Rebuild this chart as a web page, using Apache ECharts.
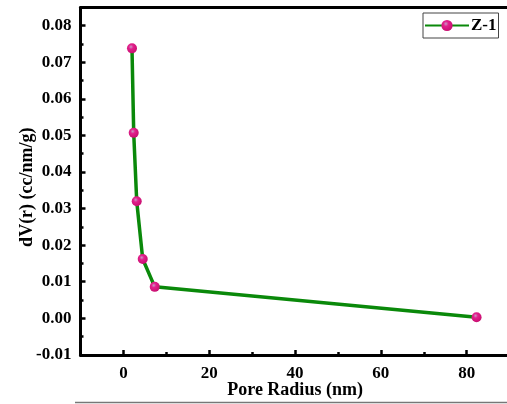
<!DOCTYPE html>
<html>
<head>
<meta charset="utf-8">
<script src="https://cdn.jsdelivr.net/npm/echarts@6/dist/echarts.min.js"></script>
<style>
  html, body { margin: 0; padding: 0; background: #fff; }
  #main { width: 507px; height: 404px; }
</style>
</head>
<body>
<div id="main"></div>
<script>
// pore size distribution, sample Z-1
var poreRadius = [2.0, 2.4, 3.1, 4.5, 7.3, 82.3];
var dVr = [0.0738, 0.0507, 0.0320, 0.0162, 0.0086, 0.0003];
var xMajorTicks = [0, 20, 40, 60, 80];
var xMinorTicks = [10, 30, 50, 70];

var font = '"Liberation Serif", "Times New Roman", serif';
var chart = echarts.init(document.getElementById('main'));

var points = poreRadius.map(function (r, i) { return [r, dVr[i]]; });

chart.setOption({
    animation: false,
    backgroundColor: '#fff',
    grid: { left: 80.5, right: -2.6, top: 7.4, bottom: 49.1, outerBoundsMode: 'none' },
    legend: {
        data: ['Z-1'],
        left: 423, top: 13,
        padding: [4, 2, 4, 1],
        itemWidth: 44, itemHeight: 14, itemGap: 0,
        borderColor: '#444', borderWidth: 1,
        backgroundColor: '#fff',
        textStyle: { fontFamily: font, fontWeight: 'bold', fontSize: 17, color: '#000', padding: [0, 0, 0, -3] }
    },
    xAxis: [{
        type: 'value', min: -10, max: 90,
        name: 'Pore Radius (nm)', nameLocation: 'middle', nameGap: 26, nameMoveOverlap: false,
        nameTextStyle: { fontFamily: font, fontWeight: 'bold', fontSize: 18, color: '#000' },
        axisLine: { show: true, onZero: false, lineStyle: { color: '#000', width: 3 } },
        axisTick: { show: true, inside: true, length: 5, customValues: xMajorTicks, lineStyle: { color: '#000', width: 2.5 } },
        axisLabel: { customValues: xMajorTicks, fontFamily: font, fontWeight: 'bold', fontSize: 17, color: '#000', margin: 10 },
        splitLine: { show: false }
    }, {
        type: 'value', min: -10, max: 90, position: 'bottom',
        axisLine: { show: false, onZero: false },
        axisTick: { show: true, inside: true, length: 3, customValues: xMinorTicks, lineStyle: { color: '#000', width: 2.5 } },
        axisLabel: { show: false },
        splitLine: { show: false }
    }, {
        // top frame line
        type: 'value', min: -10, max: 90, position: 'top',
        axisLine: { show: true, onZero: false, lineStyle: { color: '#000', width: 3 } },
        axisTick: { show: false },
        axisLabel: { show: false },
        splitLine: { show: false }
    }],
    yAxis: {
        type: 'value', min: -0.01, max: 0.085, interval: 0.01,
        name: 'dV(r) (cc/nm/g)', nameLocation: 'middle', nameGap: 44, nameMoveOverlap: false,
        nameTextStyle: { fontFamily: font, fontWeight: 'bold', fontSize: 18, color: '#000', padding: [0, 12, 0, 0] },
        axisLine: { show: true, onZero: false, lineStyle: { color: '#000', width: 3 } },
        axisTick: { show: true, inside: true, length: 5, lineStyle: { color: '#000', width: 2.5 } },
        minorTick: { show: true, splitNumber: 2, length: 3, lineStyle: { color: '#000', width: 2.5 } },
        axisLabel: {
            showMaxLabel: false,
            fontFamily: font, fontWeight: 'bold', fontSize: 17, color: '#000', margin: 9,
            formatter: function (v) { return v.toFixed(2); }
        },
        splitLine: { show: false }
    },
    series: [{
        name: 'Z-1',
        type: 'line',
        data: points,
        symbol: 'circle',
        symbolSize: 10,
        lineStyle: { color: '#0a890a', width: 3.5 },
        itemStyle: {
            color: {
                type: 'radial', x: 0.4, y: 0.35, r: 0.65,
                colorStops: [
                    { offset: 0, color: '#c79ac6' },
                    { offset: 0.35, color: '#e2208c' },
                    { offset: 1, color: '#c80f70' }
                ]
            },
            borderWidth: 0
        },
        z: 3
    }],
    graphic: [{
        type: 'line',
        shape: { x1: 75, y1: 402.5, x2: 507, y2: 402.5 },
        style: { stroke: '#777', lineWidth: 1.5 }
    }]
});
</script>
</body>
</html>
